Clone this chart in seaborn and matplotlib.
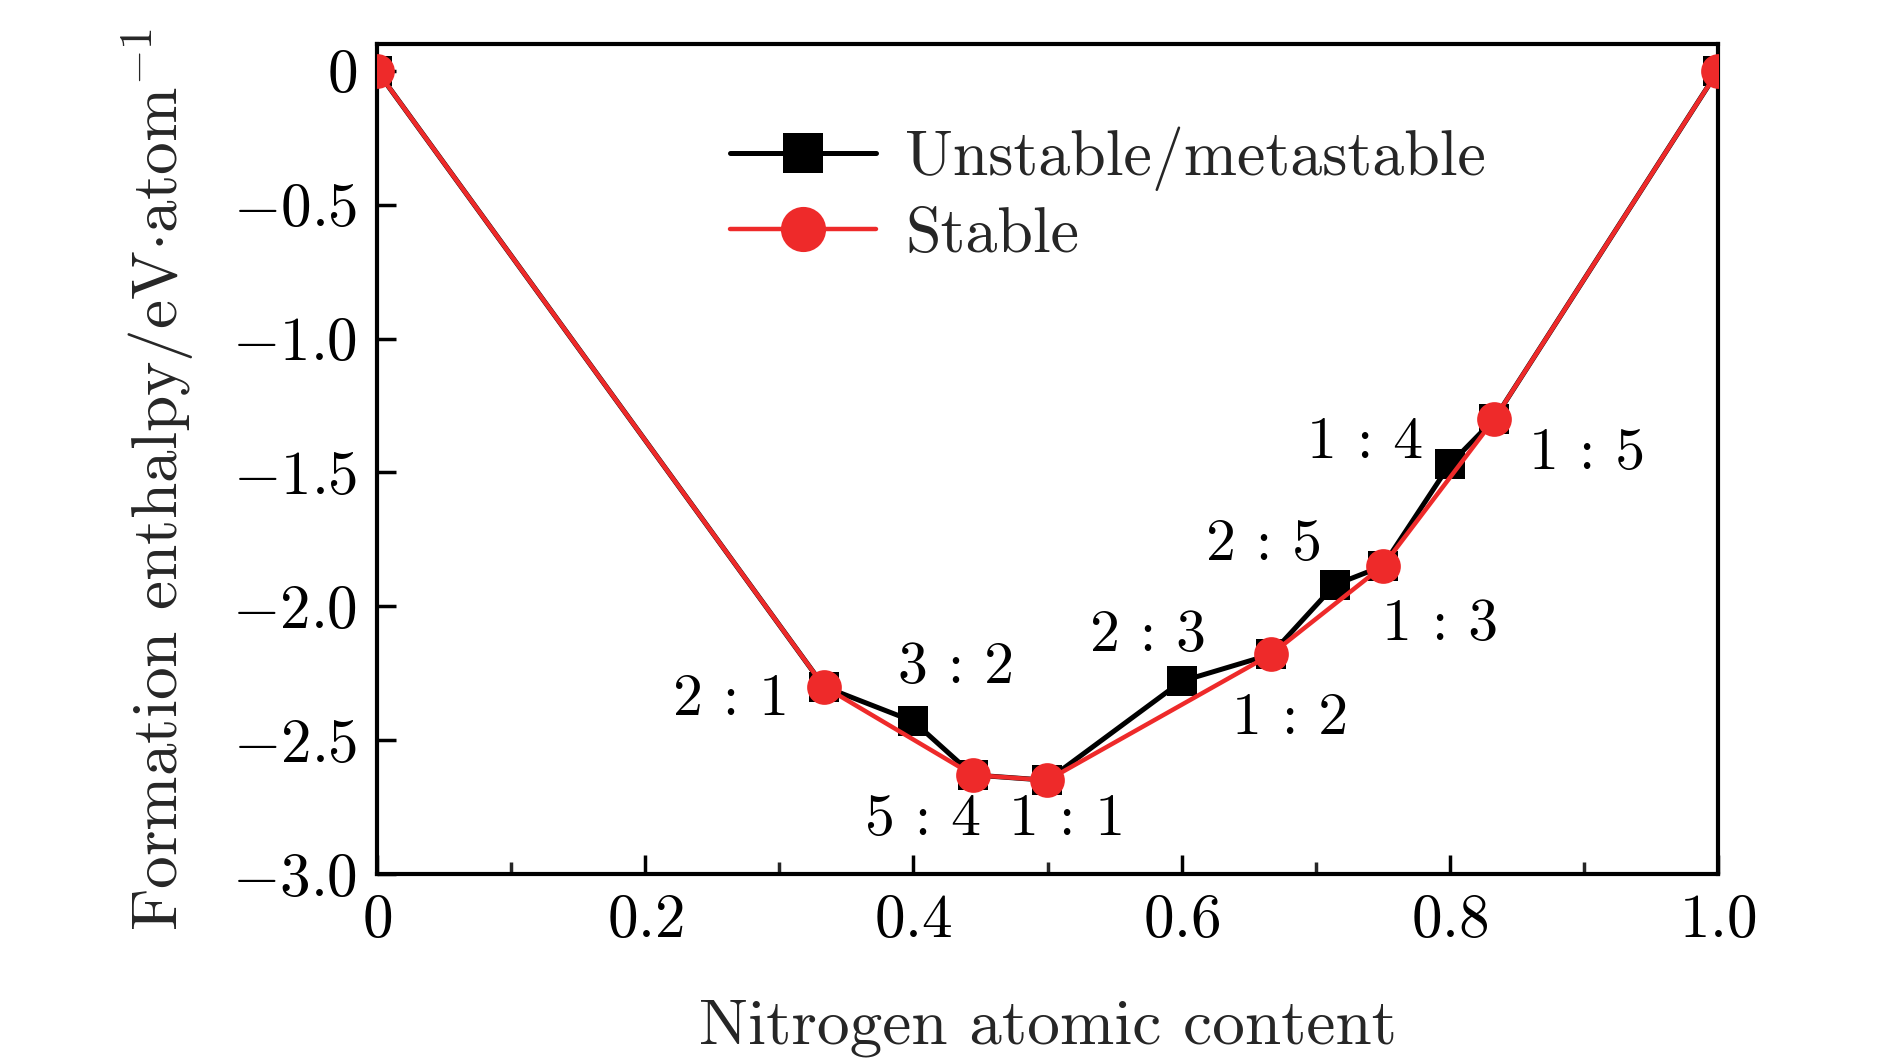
import matplotlib
matplotlib.use("Agg")
import matplotlib.pyplot as plt
import seaborn as sns
import pandas as pd
from matplotlib.ticker import MultipleLocator

# ---- data ----
unstable_x = [0.0, 1/3, 0.4, 4/9, 0.5, 0.6, 2/3, 5/7, 0.75, 0.8, 5/6, 1.0]
unstable_y = [0.0, -2.30, -2.43, -2.63, -2.65, -2.28, -2.18, -1.92, -1.85, -1.47, -1.30, 0.0]
stable_x = [0.0, 1/3, 4/9, 0.5, 2/3, 0.75, 5/6, 1.0]
stable_y = [0.0, -2.30, -2.63, -2.65, -2.18, -1.85, -1.30, 0.0]
ratio_labels = ["2 : 1", "3 : 2", "5 : 4", "1 : 1", "2 : 3", "1 : 2", "2 : 5", "1 : 3", "1 : 4", "1 : 5"]
ratio_x = [1/3, 0.4, 4/9, 0.5, 0.6, 2/3, 5/7, 0.75, 0.8, 5/6]
ratio_y = [-2.30, -2.43, -2.63, -2.65, -2.28, -2.18, -1.92, -1.85, -1.47, -1.30]
# label offsets (layout only), in data units
ratio_dx = [-0.069, 0.032, -0.037, 0.015, -0.025, 0.014, -0.053, 0.043, -0.063, 0.069]
ratio_dy = [-0.05, 0.20, -0.17, -0.15, 0.17, -0.24, 0.15, -0.22, 0.08, -0.13]
yticks = [0, -0.5, -1.0, -1.5, -2.0, -2.5, -3.0]
ytick_labels = ["$0$", "$-0.5$", "$-1.0$", "$-1.5$", "$-2.0$", "$-2.5$", "$-3.0$"]
xticks = [0, 0.2, 0.4, 0.6, 0.8, 1.0]
xtick_labels = ["$0$", "$0.2$", "$0.4$", "$0.6$", "$0.8$", "$1.0$"]

sns.set_theme(style="white")
plt.rcParams["font.family"] = ["cmr10", "DejaVu Serif"]
plt.rcParams["mathtext.fontset"] = "cm"
plt.rcParams["axes.unicode_minus"] = True

fig = plt.figure(figsize=(18.9, 10.63), dpi=100)
ax = fig.add_axes([377/1890, 1 - 874/1063, (1718-377)/1890, (874-44)/1063])

df_u = pd.DataFrame({"x": unstable_x, "y": unstable_y})
df_s = pd.DataFrame({"x": stable_x, "y": stable_y})

RED = "#ee2a2a"
sns.lineplot(data=df_u, x="x", y="y", ax=ax, color="black", lw=3.6, marker="s",
             markersize=22, markeredgewidth=0, estimator=None, sort=False,
             label="Unstable/metastable", zorder=3)
sns.lineplot(data=df_s, x="x", y="y", ax=ax, color=RED, lw=3.2, marker="o",
             markersize=25, markeredgewidth=0, estimator=None, sort=False,
             label="Stable", zorder=4)

for t, x, y, dx, dy in zip(ratio_labels, ratio_x, ratio_y, ratio_dx, ratio_dy):
    ax.text(x + dx, y + dy, t, fontsize=43, ha="center", va="center", color="black")

ax.set_xlim(0, 1.0)
ax.set_ylim(-3.0, 0.1)
ax.set_xticks(xticks)
ax.set_xticklabels(xtick_labels)
ax.xaxis.set_minor_locator(MultipleLocator(0.1))
ax.set_yticks(yticks)
ax.set_yticklabels(ytick_labels)
ax.tick_params(axis="both", which="major", direction="in", length=14, width=2.5,
               labelsize=44, colors="black", pad=14)
ax.tick_params(axis="x", which="minor", direction="in", length=9, width=2.5, bottom=True)
ax.tick_params(left=True, bottom=True)
for s in ax.spines.values():
    s.set_linewidth(3)
    s.set_color("black")

ax.set_xlabel("Nitrogen atomic content", fontsize=47, labelpad=36)
ax.set_ylabel("Formation enthalpy/eV$\\cdot$atom$^{-1}$", fontsize=47)
ax.yaxis.set_label_coords(-0.134, 0.475)

leg = ax.legend(loc="upper left", bbox_to_anchor=(0.22, 0.97), frameon=False,
                fontsize=46, handlelength=2.3, handletextpad=0.45, labelspacing=0.25,
                markerscale=1.3)

fig.savefig("out.png", dpi=100)
